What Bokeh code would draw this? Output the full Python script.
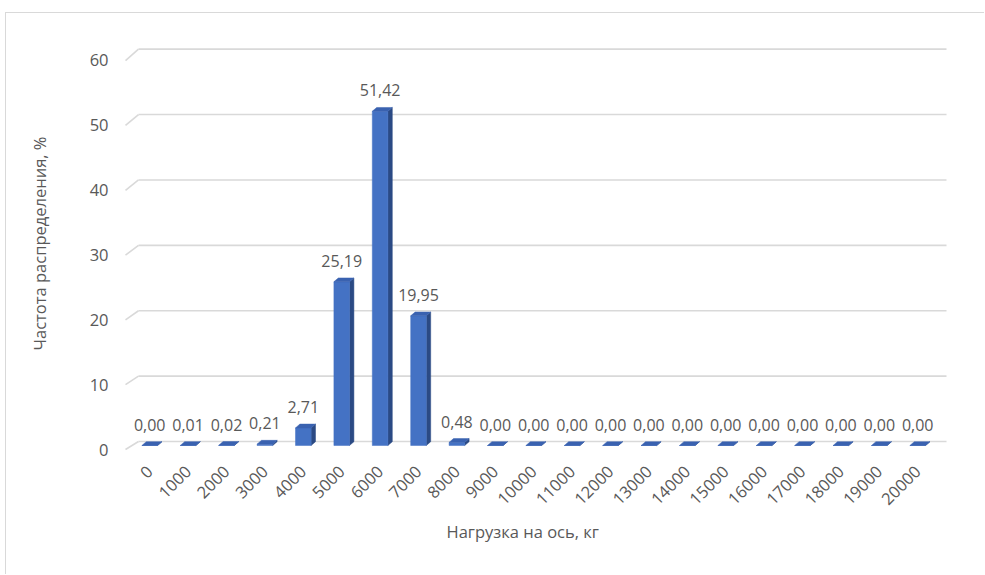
import numpy as np
from bokeh.plotting import figure
from bokeh.models import Range1d, FixedTicker, Title
from bokeh.embed import file_html
from bokeh.resources import INLINE
from bokeh.core.properties import value

# ---- data ----
categories = ["0", "1000", "2000", "3000", "4000", "5000", "6000", "7000", "8000", "9000",
              "10000", "11000", "12000", "13000", "14000", "15000", "16000", "17000",
              "18000", "19000", "20000"]
freq = [0.00, 0.01, 0.02, 0.21, 2.71, 25.19, 51.42, 19.95, 0.48, 0.00,
        0.00, 0.00, 0.00, 0.00, 0.00, 0.00, 0.00, 0.00, 0.00, 0.00, 0.00]
y_ticks = [0, 10, 20, 30, 40, 50, 60]
x_title = "Нагрузка на ось, кг"
y_title = "Частота распределения, %"
bar_labels = [f"{v:.2f}".replace(".", ",") for v in freq]

# ---- geometry (page pixels; canvas is offset by the chart border) ----
OX, OY = 6, 13                    # canvas origin inside the bordered chart area
W, H = 985 - OX, 575 - OY
FL, FR, FT, FB = 118 - OX, 960 - OX, 30 - OY, 456 - OY
PX, PY = 38.4, 6.5
X0, Y0 = 149.2, 449.0             # page pixel of index 0 / value 0
x_start = -(X0 - 118) / PX
x_end = x_start + (960 - 118) / PX
y_start = -(456 - Y0) / PY
y_end = y_start + (456 - 30) / PY

TEXT = "#595959"
GRID = "#d9d9d9"
FONT = "Open Sans"

p = figure(width=W, height=H, output_backend="svg", toolbar_location=None,
           x_range=Range1d(x_start, x_end), y_range=Range1d(y_start, y_end),
           min_border_left=FL, min_border_right=W - FR,
           min_border_top=FT, min_border_bottom=H - FB)
p.styles = {"margin-left": "5px", "margin-top": "12px",
            "border-left": "1px solid #d9d9d9", "border-top": "1px solid #d9d9d9"}
p.outline_line_color = None
p.background_fill_color = "white"
p.border_fill_color = "white"
p.xgrid.visible = False
p.ygrid.visible = False

# ---- 3D back wall gridlines ----
gx_front = (125 - X0) / PX
gx_back = (138 - X0) / PX
gx_end = (946 - X0) / PX
back_y = [1.23 + 1.006 * v for v in y_ticks]
front_y = [0.997 * v for v in y_ticks]
p.segment(x0=[gx_back] * len(y_ticks), y0=back_y, x1=[gx_end] * len(y_ticks), y1=back_y,
          line_color=GRID, line_width=1.6)
p.segment(x0=[gx_front] * len(y_ticks), y0=front_y, x1=[gx_back] * len(y_ticks), y1=back_y,
          line_color=GRID, line_width=1.6)

# ---- 3D bars ----
half = 7.8 / PX
ddx = 4.4 / PX
ddy = 3.8 / PY
base = 4.0 / PY
idx = list(range(len(categories)))
lefts = [i - half for i in idx]
rights = [i + half for i in idx]
tops = [base + v for v in freq]

side_xs, side_ys, top_xs, top_ys = [], [], [], []
for l, r, t in zip(lefts, rights, tops):
    side_xs.append([r, r + ddx, r + ddx, r])
    side_ys.append([base, base + ddy, t + ddy, t])
    top_xs.append([l, r, r + ddx, l + ddx])
    top_ys.append([t, t, t + ddy, t + ddy])

p.patches(side_xs, side_ys, fill_color="#2B4A84", line_color="#2B4A84", line_width=0.5)
p.quad(left=lefts, right=rights, bottom=[base] * len(idx), top=tops,
       fill_color="#4472C4", line_color="#4472C4", line_width=0.5)
p.patches(top_xs, top_ys, fill_color="#3A62B0", line_color="#3A62B0", line_width=0.5)

# ---- data labels ----
p.text(x=idx, y=[t + ddy for t in tops], text=bar_labels,
       text_align="center", text_baseline="middle", y_offset=-17,
       text_font=value(FONT), text_font_size="16px", text_color=TEXT)

# ---- axes ----
xa = p.xaxis[0]
xa.ticker = FixedTicker(ticks=idx)
xa.major_label_overrides = {i: c for i, c in zip(idx, categories)}
xa.major_label_orientation = np.pi / 4
xa.major_label_text_font = FONT
xa.major_label_text_font_size = "16.5px"
xa.major_label_text_color = TEXT
xa.major_label_standoff = 6
xa.axis_line_color = None
xa.major_tick_line_color = None
xa.minor_tick_line_color = None

ya = p.yaxis[0]
ya.ticker = FixedTicker(ticks=y_ticks)
ya.major_label_text_font = FONT
ya.major_label_text_font_size = "16.5px"
ya.major_label_text_color = TEXT
ya.major_label_standoff = 4
ya.axis_line_color = None
ya.major_tick_line_color = None
ya.minor_tick_line_color = None
ya.axis_label = y_title
ya.axis_label_text_font = FONT
ya.axis_label_text_font_size = "16.5px"
ya.axis_label_text_font_style = "normal"
ya.axis_label_text_color = TEXT
ya.axis_label_standoff = 36

p.add_layout(Title(text=x_title, align="left", offset=328, standoff=8,
                   text_font=FONT, text_font_size="16.5px", text_font_style="normal",
                   text_color=TEXT), "below")

open("out.html", "w").write(file_html(p, INLINE))
